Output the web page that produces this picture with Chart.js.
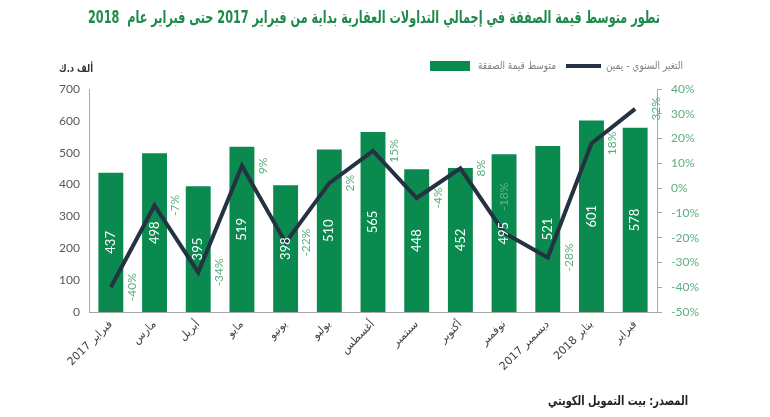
<!DOCTYPE html>
<html><head><meta charset="utf-8">
<script src="https://cdn.jsdelivr.net/npm/chart.js@4/dist/chart.umd.min.js"></script>
<style>html,body{margin:0;padding:0;background:#fff}#wrap{width:770px;height:417px;position:relative}</style>
</head><body><div id="wrap"><canvas id="c" width="770" height="417"></canvas></div>
<script>
const categories = ['فبراير 2017','مارس','أبريل','مايو','يونيو','يوليو','أغسطس','سبتمبر','أكتوبر','نوفمبر','ديسمبر 2017','يناير 2018','فبراير'];
const avgDealValue = [437,498,395,519,398,510,565,448,452,495,521,601,578];
const yoyChange = [-40,-7,-34,9,-22,2,15,-4,8,-18,-28,18,32];
const leftTicks = [0,100,200,300,400,500,600,700];
const rightTicks = [-50,-40,-30,-20,-10,0,10,20,30,40];
const titleText = 'تطور متوسط قيمة الصفقة في إجمالي التداولات العقارية بداية من فبراير 2017 حتى فبراير عام  2018';
const barSeriesName = 'متوسط قيمة الصفقة';
const lineSeriesName = 'التغير السنوي - يمين';
const leftAxisTitle = 'ألف د.ك';
const sourceText = 'المصدر: بيت التمويل الكويتي';

const GREEN = '#0b8a4f';
const NAVY = '#243242';
const LABEL_GREEN = '#5cae7f';
const AXIS = '#a6a6a6';
const AR = "'DejaVu Sans', sans-serif";
const NUM = "Lato, 'Open Sans', sans-serif";

const labelPlugin = {
  id: 'labels',
  afterDatasetsDraw(chart) {
    const ctx = chart.ctx;
    const barMeta = chart.getDatasetMeta(1);
    barMeta.data.forEach((el, i) => {
      const p = el.getProps(['x','y','base'], true);
      ctx.save();
      ctx.translate(p.x, (p.y + p.base) / 2);
      ctx.rotate(-Math.PI/2);
      ctx.font = '13px ' + NUM;
      ctx.fillStyle = '#ffffff';
      ctx.textAlign = 'center';
      ctx.textBaseline = 'middle';
      ctx.fillText(String(avgDealValue[i]), 0, 0);
      ctx.restore();
    });
    const lineMeta = chart.getDatasetMeta(0);
    const special = {9: {dx: 0, dy: -36, color: 'rgba(140,210,170,0.6)'}};
    lineMeta.data.forEach((el, i) => {
      const s = special[i] || {dx: 21, dy: 0, color: LABEL_GREEN};
      ctx.save();
      ctx.translate(el.x + s.dx, el.y + s.dy);
      ctx.rotate(-Math.PI/2);
      ctx.font = '12px ' + NUM;
      ctx.fillStyle = s.color;
      ctx.textAlign = 'center';
      ctx.textBaseline = 'middle';
      ctx.fillText(yoyChange[i] + '%', 0, 0);
      ctx.restore();
    });
  },
  afterDraw(chart) {
    const ctx = chart.ctx;
    ctx.save();
    ctx.textBaseline = 'middle';
    // title
    ctx.font = 'bold 17px ' + AR;
    ctx.fillStyle = '#1f8a4c';
    ctx.textAlign = 'center';
    ctx.fillText(titleText, 374, 19, 572);
    // legend
    ctx.fillStyle = GREEN;
    ctx.fillRect(430, 61, 40, 10);
    ctx.font = '11px ' + AR;
    ctx.fillStyle = '#7f7f7f';
    ctx.textAlign = 'left';
    ctx.fillText(barSeriesName, 478, 66, 78);
    ctx.strokeStyle = NAVY;
    ctx.lineWidth = 4;
    ctx.beginPath(); ctx.moveTo(566, 66); ctx.lineTo(601, 66); ctx.stroke();
    ctx.fillText(lineSeriesName, 606, 66, 77);
    // axis title
    ctx.font = 'bold 11px ' + AR;
    ctx.fillStyle = '#333333';
    ctx.textAlign = 'center';
    ctx.fillText(leftAxisTitle, 76, 69, 34);
    // source
    ctx.font = 'bold 13px ' + AR;
    ctx.fillStyle = '#222222';
    ctx.textAlign = 'right';
    ctx.fillText(sourceText, 688, 402, 140);
    ctx.restore();
  }
};

new Chart(document.getElementById('c'), {
  data: {
    labels: categories,
    datasets: [
      { type: 'line', label: lineSeriesName, data: yoyChange, yAxisID: 'y1', borderColor: NAVY, borderWidth: 4,
        pointRadius: 0, tension: 0, fill: false, order: 0 },
      { type: 'bar', label: barSeriesName, data: avgDealValue, yAxisID: 'y', backgroundColor: GREEN,
        categoryPercentage: 1, barPercentage: 0.57, order: 1 }
    ]
  },
  options: {
    responsive: false, animation: false, devicePixelRatio: 1,
    layout: { padding: { top: 89, bottom: 0, left: 0, right: 0 } },
    plugins: { legend: { display: false }, title: { display: false }, tooltip: { enabled: false } },
    scales: {
      x: {
        grid: { display: false, drawTicks: false },
        border: { display: true, color: AXIS, width: 1 },
        ticks: { minRotation: 45, maxRotation: 45, autoSkip: false, color: '#404040', font: { family: AR, size: 11 }, padding: 6 },
        afterFit(s) { s.height = 105; }
      },
      y: {
        position: 'left', min: 0, max: 700,
        afterBuildTicks(s) { s.ticks = leftTicks.map(v => ({ value: v })); },
        grid: { display: false, drawTicks: false },
        border: { display: true, color: AXIS, width: 1 },
        ticks: { color: '#595959', font: { family: NUM, size: 12 }, padding: 9 },
        afterFit(s) { s.width = 89; }
      },
      y1: {
        position: 'right', min: -50, max: 40,
        afterBuildTicks(s) { s.ticks = rightTicks.map(v => ({ value: v })); },
        grid: { display: true, drawOnChartArea: false, drawTicks: true, tickLength: 5, color: AXIS },
        border: { display: true, color: AXIS, width: 1 },
        ticks: { color: LABEL_GREEN, font: { family: NUM, size: 12 }, padding: 9, callback: v => v + '%' },
        afterFit(s) { s.width = 113; }
      }
    }
  },
  plugins: [labelPlugin]
});
</script></body></html>
